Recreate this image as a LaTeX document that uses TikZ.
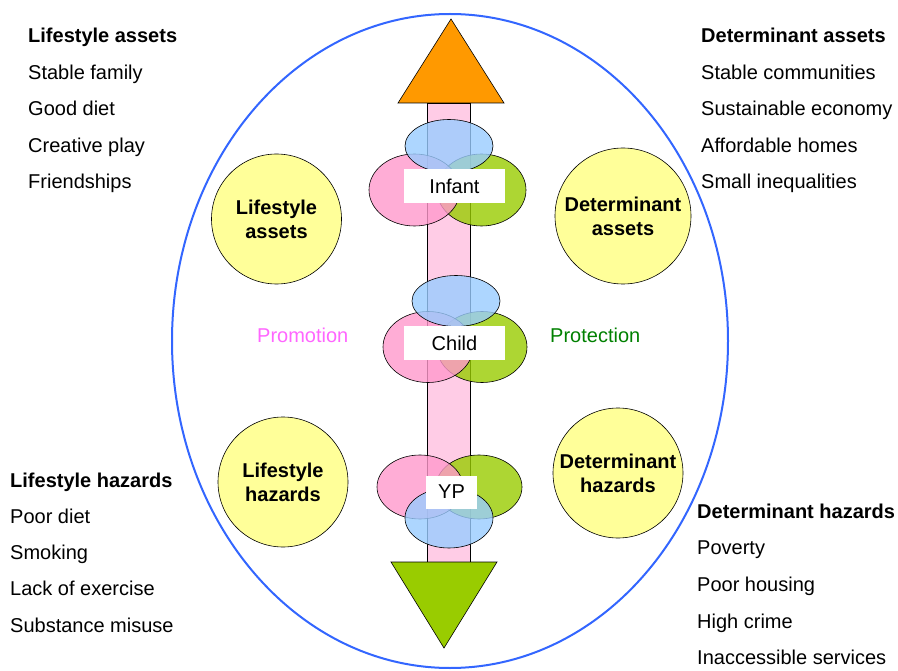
\documentclass[tikz,border=0pt]{standalone}
\usepackage{fontspec}
\setmainfont{Liberation Sans}
\usetikzlibrary{shapes.geometric}

\definecolor{ovalblue}{HTML}{3366FF}
\definecolor{uporange}{HTML}{FF9900}
\definecolor{downgreen}{HTML}{99CC00}
\definecolor{shaftpink}{HTML}{FFCCE6}
\definecolor{circyellow}{HTML}{FFFF99}
\definecolor{lobeblue}{HTML}{99CCFF}
\definecolor{lobepink}{HTML}{FF99CC}
\definecolor{lobegreen}{HTML}{99CC00}
\definecolor{promopink}{HTML}{FF66FF}
\definecolor{protgreen}{HTML}{008000}

\tikzset{
  txt/.style={font=\fontsize{20}{24}\selectfont, inner sep=0pt},
  head/.style={txt, font=\fontsize{20}{24}\selectfont\bfseries, anchor=base west},
  item/.style={txt, anchor=base west},
  ball/.style={circle, draw=black, line width=0.6pt, fill=circyellow,
    minimum size=130pt, align=center, txt, font=\fontsize{20}{24}\selectfont\bfseries},
  lobe/.style={ellipse, draw=black, line width=0.6pt, fill opacity=0.8,
    minimum width=89pt, minimum height=60pt, inner sep=0pt},
  stage/.style={txt, fill=white, minimum height=34pt}
}

\begin{document}
\begin{tikzpicture}[x=1pt, y=-1pt]
  \useasboundingbox (0,0) rectangle (898,671);

  % the big oval
  \draw[ovalblue, line width=2pt] (450,341) ellipse [x radius=278pt, y radius=327pt];

  % shaft with the two heads
  \draw[fill=shaftpink, line width=0.7pt] (427,103) rectangle (470,562);
  \draw[fill=uporange, line width=0.6pt] (398,103) -- (451,19) -- (504,103) -- cycle;
  \draw[fill=downgreen, line width=0.6pt] (391,562) -- (497,562) -- (444,648) -- cycle;

  % infant
  \node[lobe, fill=lobegreen, minimum height=72pt] (infG) at (481.5,190) {};
  \node[lobe, fill=lobepink, minimum width=91pt, minimum height=72pt] (infP) at (414.5,190) {};
  \node[lobe, fill=lobeblue, minimum width=88pt, minimum height=53pt] (infB) at (449,146) {};
  \node[stage, minimum width=101pt] (infant) at (454.5,186) {Infant};

  % child
  \node[lobe, fill=lobegreen, minimum width=90pt, minimum height=71pt] (chG) at (482,347) {};
  \node[lobe, fill=lobepink, minimum width=90pt, minimum height=71pt] (chP) at (428,347) {};
  \node[lobe, fill=lobeblue, minimum width=88pt, minimum height=51pt] (chB) at (456,301) {};
  \node[stage, minimum width=101pt] (child) at (454.5,343) {Child};

  % young people
  \node[lobe, fill=lobegreen, minimum width=86pt, minimum height=64pt] (ypG) at (479,487) {};
  \node[lobe, fill=lobepink, minimum width=86pt, minimum height=64pt] (ypP) at (420,487) {};
  \node[lobe, fill=lobeblue, minimum width=88pt, minimum height=60pt] (ypB) at (449,518) {};
  \node[stage, minimum width=51pt, minimum height=33pt] (yp) at (451.5,492) {YP};

  % yellow circles
  \node[ball] (lassets) at (276.5,219) {Lifestyle\\assets};
  \node[ball, minimum size=136pt] (dassets) at (623,216) {Determinant\\assets};
  \node[ball] (lhazards) at (283,482) {Lifestyle\\hazards};
  \node[ball] (dhazards) at (618,473) {Determinant\\hazards};

  \node[item, text=promopink] (promo) at (257,343) {Promotion};
  \node[item, text=protgreen] (prot) at (550,343) {Protection};

  % the four lists
  \node[head] (lahead) at (28,43) {Lifestyle assets};
  \foreach \t [count=\i] in {Stable family, Good diet, Creative play, Friendships}
    \node[item] (la\i) at (28,{43+36.5*\i}) {\t};

  \node[head] (dahead) at (701,43) {Determinant assets};
  \foreach \t [count=\i] in {Stable communities, Sustainable economy, Affordable homes, Small inequalities}
    \node[item] (da\i) at (701,{43+36.5*\i}) {\t};

  \node[head] (lhhead) at (10,487) {Lifestyle hazards};
  \foreach \t [count=\i] in {Poor diet, Smoking, Lack of exercise, Substance misuse}
    \node[item] (lh\i) at (10,{487+36.3*\i}) {\t};

  \node[head] (dhhead) at (697,518) {Determinant hazards};
  \foreach \t [count=\i] in {Poverty, Poor housing, High crime, Inaccessible services}
    \node[item] (dh\i) at (697,{518+36.7*\i}) {\t};
\end{tikzpicture}
\end{document}
